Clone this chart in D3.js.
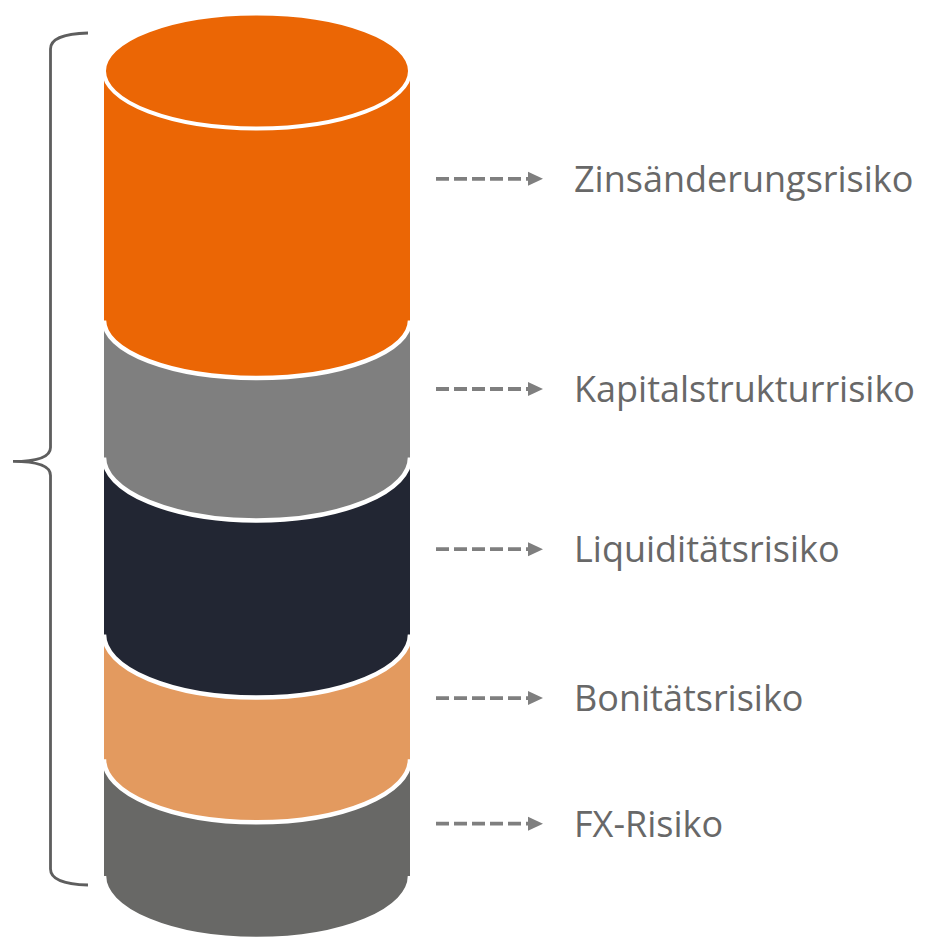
<!DOCTYPE html>
<html>
<head>
<meta charset="utf-8">
<script src="https://cdn.jsdelivr.net/npm/d3@7"></script>
<style>
  html, body { margin: 0; padding: 0; background: #ffffff; }
  svg { display: block; }
</style>
</head>
<body>
<div id="chart"></div>
<script>
// ---- data ----
const categories = ["Zinsänderungsrisiko", "Kapitalstrukturrisiko", "Liquiditätsrisiko", "Bonitätsrisiko", "FX-Risiko"];
const values = [31, 17, 22, 15.5, 14.5];          // share of stack height (top to bottom)
const labelAt = [13.4, 39.5, 59.4, 77.9, 93.5];    // label position on the stack scale
const colors = ["#EB6605", "#7F7F7F", "#222633", "#E39A5F", "#686866"];

// ---- layout ----
const W = 926, H = 941;
const cx = 257, rx = 153;
const ryTop = 57.5, ry = 63;

const svg = d3.select("#chart").append("svg").attr("width", W).attr("height", H);

const y = d3.scaleLinear().domain([0, 100]).range([71, 876]);
const x = d3.scaleLinear().domain([-1, 1]).range([cx - rx, cx + rx]);

const cum = [0];
values.forEach((v, i) => cum.push(cum[i] + v));

const segs = categories.map((c, i) => ({
  name: c, color: colors[i], top: cum[i], bottom: cum[i + 1], label: labelAt[i], i
}));

// draw segments from bottom to top
const g = svg.append("g");
segs.slice().reverse().forEach(s => {
  const x0 = x(-1), x1 = x(1);
  const r = s.i === 0 ? ryTop : ry;
  const yt = s.i === 0 ? y(s.top) : y(s.top) - 2;
  const yb = y(s.bottom);
  g.append("path")
    .attr("d", `M${x0},${yt} L${x0},${yb} A${rx},${r} 0 0 0 ${x1},${yb} L${x1},${yt} Z`)
    .attr("fill", s.color);
  g.append("path")
    .attr("d", `M${x0},${yb} A${rx},${r} 0 0 0 ${x1},${yb}`)
    .attr("fill", "none")
    .attr("stroke", "#ffffff")
    .attr("stroke-width", 4.5);
  if (s.i === 0) {
    g.append("ellipse")
      .attr("cx", cx).attr("cy", y(s.top))
      .attr("rx", rx).attr("ry", ryTop)
      .attr("fill", s.color)
      .attr("stroke", "#ffffff")
      .attr("stroke-width", 4);
  }
});

// arrows + labels
const arrowColor = "#7F7F7F";
const ax0 = 436, axTip = 543;
const lg = svg.append("g");
segs.forEach(s => {
  const ay = y(s.label);
  lg.append("line")
    .attr("x1", ax0).attr("x2", axTip - 11)
    .attr("y1", ay).attr("y2", ay)
    .attr("stroke", arrowColor)
    .attr("stroke-width", 3.8)
    .attr("stroke-dasharray", "13,5");
  lg.append("path")
    .attr("d", `M${axTip - 15},${ay - 7} L${axTip},${ay} L${axTip - 15},${ay + 7} Z`)
    .attr("fill", arrowColor);
  lg.append("text")
    .attr("x", 574)
    .attr("y", ay + 13)
    .attr("font-family", "'Open Sans', Lato, sans-serif")
    .attr("font-size", 36)
    .attr("fill", "#686868")
    .text(s.name);
});

// curly brace on the left
const bx = 50.5, tipX = 13, armX = 88;
const yTopB = 33, yMid = y(48.5), yBotB = 885;
svg.append("path")
  .attr("d", `M${armX},${yTopB} Q${bx},${yTopB + 1} ${bx},${yTopB + 16}
              L${bx},${yMid - 14} Q${bx},${yMid} ${tipX},${yMid}
              Q${bx},${yMid} ${bx},${yMid + 14}
              L${bx},${yBotB - 16} Q${bx},${yBotB - 1} ${armX},${yBotB}`)
  .attr("fill", "none")
  .attr("stroke", "#5E5E5E")
  .attr("stroke-width", 2.8);
</script>
</body>
</html>
